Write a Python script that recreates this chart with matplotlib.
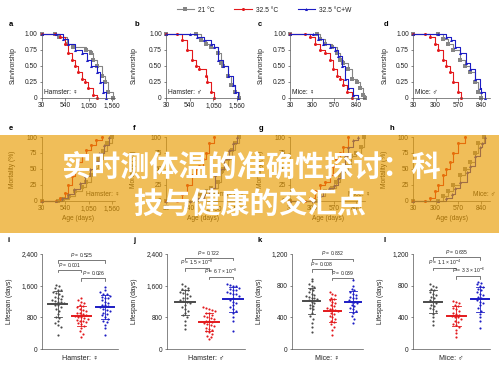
import numpy as np
import matplotlib
matplotlib.use("Agg")
import matplotlib.pyplot as plt
from matplotlib.patches import Rectangle
from matplotlib.ticker import FuncFormatter

plt.rcParams['font.family'] = ['Liberation Sans', 'DejaVu Sans']
plt.rcParams['mathtext.fontset'] = 'custom'
plt.rcParams['mathtext.it'] = 'Liberation Sans:italic'
plt.rcParams['mathtext.rm'] = 'Liberation Sans'

# ---- data: survivorship (days, fraction alive) ----
groups = ['21 °C', '32.5 °C', '32.5 °C+W']

a_day_21 = [30, 320, 400, 570, 710, 1000, 1110, 1150, 1235, 1330, 1400, 1470, 1580]
a_srv_21 = [1, 1, .95, .85, .80, .75, .70, .60, .50, .35, .25, .10, 0]
a_day_32 = [30, 320, 430, 540, 610, 680, 750, 820, 900, 970, 1040, 1150, 1220]
a_srv_32 = [1, 1, .95, .85, .70, .60, .50, .40, .30, .25, .15, .05, 0]
a_day_w = [30, 350, 490, 600, 750, 900, 1020, 1110, 1220, 1300, 1370, 1435]
a_srv_w = [1, 1, .92, .85, .75, .70, .60, .50, .40, .25, .10, 0]

b_day_21 = [30, 664, 774, 883, 992, 1138, 1211, 1247, 1357, 1430, 1503, 1590]
b_srv_21 = [1, 1, .90, .85, .80, .70, .55, .50, .35, .20, .10, 0]
b_day_32 = [30, 263, 373, 482, 591, 664, 737, 883, 919, 992, 1065]
b_srv_32 = [1, 1, .90, .75, .60, .50, .45, .35, .25, .10, 0]
b_day_w = [30, 555, 701, 847, 992, 1065, 1138, 1247, 1357, 1466, 1503, 1575]
b_srv_w = [1, 1, .95, .90, .85, .80, .60, .50, .35, .20, .10, 0]

c_day_21 = [30, 357, 398, 459, 541, 603, 644, 684, 746, 787, 848, 889, 930, 950]
c_srv_21 = [1, 1, .92, .85, .80, .70, .60, .55, .45, .30, .25, .15, .05, 0]
c_day_32 = [30, 214, 275, 337, 398, 459, 521, 562, 603, 644, 684, 725, 787]
c_srv_32 = [1, 1, .95, .85, .75, .70, .60, .45, .35, .30, .20, .10, 0]
c_day_w = [30, 316, 378, 439, 521, 582, 623, 664, 705, 746, 807, 868]
c_srv_w = [1, 1, .92, .85, .80, .75, .65, .50, .30, .15, .05, 0]

d_day_21 = [30, 329, 389, 449, 509, 589, 648, 708, 768, 808, 848]
d_srv_21 = [1, 1, .92, .85, .75, .60, .50, .40, .25, .10, 0]
d_day_32 = [30, 170, 230, 289, 329, 389, 429, 469, 509, 569, 609]
d_srv_32 = [1, 1, .95, .85, .75, .60, .50, .40, .25, .10, 0]
d_day_w = [30, 329, 429, 489, 529, 589, 668, 708, 768, 828, 848, 888]
d_srv_w = [1, 1, .95, .90, .80, .70, .55, .45, .30, .15, .10, 0]

# ---- data: mortality (days, %) ----
e_day_21 = [30, 380, 500, 620, 760, 900, 1000, 1100, 1180, 1260, 1350, 1450, 1550]
e_mor_21 = [0, 0, 3, 8, 15, 22, 30, 40, 52, 65, 78, 90, 100]
e_day_32 = [30, 330, 430, 540, 600, 680, 750, 820, 900, 1000, 1100, 1200, 1330]
e_mor_32 = [0, 0, 5, 12, 25, 38, 50, 60, 72, 80, 88, 95, 100]
e_day_w = [30, 350, 480, 600, 720, 850, 980, 1080, 1180, 1280, 1380, 1500]
e_mor_w = [0, 0, 5, 10, 18, 28, 38, 50, 62, 75, 88, 100]

f_day_21 = [30, 660, 770, 880, 1000, 1140, 1220, 1260, 1360, 1440, 1510, 1590]
f_mor_21 = [0, 0, 10, 15, 20, 30, 45, 50, 65, 80, 90, 100]
f_day_32 = [30, 265, 370, 480, 580, 665, 740, 820, 885, 960, 1060]
f_mor_32 = [0, 0, 10, 25, 40, 50, 55, 65, 75, 90, 100]
f_day_w = [30, 550, 700, 840, 950, 1000, 1080, 1180, 1280, 1380, 1470, 1560]
f_mor_w = [0, 0, 5, 10, 15, 20, 40, 50, 65, 80, 90, 100]

g_day_21 = [30, 360, 400, 460, 540, 600, 640, 680, 740, 780, 840, 900, 940]
g_mor_21 = [0, 0, 8, 15, 20, 30, 40, 45, 55, 70, 75, 85, 100]
g_day_32 = [30, 215, 280, 340, 400, 460, 520, 560, 600, 640, 680, 740]
g_mor_32 = [0, 0, 5, 15, 25, 30, 40, 55, 65, 75, 85, 100]
g_day_w = [30, 315, 370, 430, 510, 570, 620, 660, 700, 740, 800, 870]
g_mor_w = [0, 0, 8, 15, 20, 25, 35, 50, 70, 85, 95, 100]

h_day_21 = [30, 330, 390, 450, 510, 590, 650, 710, 770, 810, 880]
h_mor_21 = [0, 0, 8, 15, 25, 40, 50, 60, 75, 90, 100]
h_day_32 = [30, 170, 230, 290, 330, 390, 430, 470, 510, 570, 650]
h_mor_32 = [0, 0, 5, 15, 25, 40, 50, 60, 75, 90, 100]
h_day_w = [30, 330, 430, 490, 530, 590, 670, 710, 770, 830, 860, 890]
h_mor_w = [0, 0, 5, 10, 20, 30, 45, 55, 70, 85, 90, 100]

# ---- data: individual lifespans (days) ----
i_21 = [1620, 1580, 1540, 1500, 1480, 1450, 1420, 1380, 1350, 1320, 1300, 1270, 1250, 1220, 1200,
        1180, 1150, 1120, 1100, 1060, 1000, 950, 880, 820, 780, 700, 650, 600, 560, 350]
i_32 = [1300, 1250, 1200, 1150, 1100, 1080, 1050, 1000, 980, 950, 920, 900, 880, 860, 840,
        820, 800, 780, 760, 740, 720, 700, 680, 650, 620, 580, 520, 450, 380, 300]
i_w = [1560, 1500, 1450, 1400, 1380, 1350, 1320, 1300, 1280, 1250, 1200, 1150, 1120, 1100, 1080,
       1050, 1000, 980, 950, 900, 880, 850, 800, 760, 720, 680, 600, 520, 350]
j_21 = [1650, 1600, 1550, 1520, 1500, 1480, 1450, 1420, 1400, 1350, 1300, 1280, 1250, 1220, 1200,
        1150, 1100, 1050, 1000, 950, 900, 850, 800, 700, 600, 500]
j_32 = [1050, 1030, 1000, 980, 950, 920, 900, 870, 840, 800, 780, 750, 720, 700, 680, 650, 620,
        600, 570, 540, 500, 480, 450, 420, 380, 340, 300, 250]
j_w = [1650, 1620, 1600, 1580, 1550, 1520, 1500, 1480, 1450, 1420, 1400, 1380, 1350, 1300, 1250,
       1200, 1150, 1100, 1050, 1000, 950, 900, 800, 700, 450]
k_21 = [880, 860, 820, 800, 780, 760, 740, 720, 700, 680, 670, 660, 650, 640, 630, 620, 600, 580,
        560, 540, 520, 500, 460, 420, 380, 330, 280, 220]
k_32 = [720, 700, 680, 650, 630, 620, 600, 580, 560, 540, 520, 510, 500, 490, 480, 460, 440, 420,
        400, 380, 360, 340, 320, 280, 240, 180]
k_w = [870, 800, 760, 740, 720, 700, 680, 660, 650, 640, 620, 600, 590, 580, 560, 540, 520, 500,
       480, 460, 420, 380, 330]
l_21 = [820, 800, 780, 760, 740, 720, 700, 680, 660, 640, 620, 600, 580, 560, 540, 520, 500, 480,
        440, 400, 350, 300]
l_32 = [610, 600, 580, 560, 540, 520, 500, 480, 460, 440, 430, 420, 410, 400, 380, 360, 340, 320,
        300, 280, 240, 200, 150]
l_w = [850, 840, 820, 800, 780, 760, 740, 720, 700, 680, 660, 640, 620, 600, 580, 560, 520, 480,
       440, 400, 350, 270]

p_i = ['0.525', '0.001', '0.026']
p_j = ['0.722', r'1.5 × 10$^{-8}$', r'6.7 × 10$^{-8}$']
p_k = ['0.832', '0.008', '0.039']
p_l = ['0.635', r'1.1 × 10$^{-4}$', r'3.3 × 10$^{-6}$']

cohorts = ['Hamster: ♀', 'Hamster: ♂', 'Mice: ♀', 'Mice: ♂']

# ---- styling ----
colors = ['#858585', '#e3191c', '#1c1cc4']
dot_colors = ['#4a4a4a', '#e3191c', '#1c1cc4']
markers = ['s', 'o', '^']
txt = '#222222'
spine_c = '#555555'
FS = 4.8

W, H = 499, 371
fig = plt.figure(figsize=(W / 100, H / 100), dpi=100)


def px_axes(l, t, r, b):
    return fig.add_axes([l / W, 1 - b / H, (r - l) / W, (b - t) / H])


def style(ax):
    for s in ['top', 'right']:
        ax.spines[s].set_visible(False)
    for s in ['left', 'bottom']:
        ax.spines[s].set_linewidth(0.5)
        ax.spines[s].set_color(spine_c)
    ax.tick_params(length=1.8, width=0.5, pad=1.2, labelsize=FS, colors=spine_c, labelcolor=txt)


def ylab(ax, text, x_px, l, r):
    ax.set_ylabel(text, fontsize=FS, color=txt)
    ax.yaxis.set_label_coords((x_px - l) / (r - l), 0.5)


cols = [(41.7, 115), (166, 240), (290, 365), (413, 490)]
xlims = [(30, 1620), (30, 1620), (30, 950), (30, 950)]
xticks = [[30, 540, 1050, 1560]] * 2 + [[30, 300, 570, 840]] * 2
letters_top = [(9, 'a'), (135, 'b'), (258, 'c'), (384, 'd')]
ylab_x = [17, 138, 265, 389]

surv = [
    [(a_day_21, a_srv_21), (a_day_32, a_srv_32), (a_day_w, a_srv_w)],
    [(b_day_21, b_srv_21), (b_day_32, b_srv_32), (b_day_w, b_srv_w)],
    [(c_day_21, c_srv_21), (c_day_32, c_srv_32), (c_day_w, c_srv_w)],
    [(d_day_21, d_srv_21), (d_day_32, d_srv_32), (d_day_w, d_srv_w)],
]
mort = [
    [(e_day_21, e_mor_21), (e_day_32, e_mor_32), (e_day_w, e_mor_w)],
    [(f_day_21, f_mor_21), (f_day_32, f_mor_32), (f_day_w, f_mor_w)],
    [(g_day_21, g_mor_21), (g_day_32, g_mor_32), (g_day_w, g_mor_w)],
    [(h_day_21, h_mor_21), (h_day_32, h_mor_32), (h_day_w, h_mor_w)],
]
life = [(i_21, i_32, i_w), (j_21, j_32, j_w), (k_21, k_32, k_w), (l_21, l_32, l_w)]
pvals = [p_i, p_j, p_k, p_l]

comma = FuncFormatter(lambda v, p: f'{int(v):,}')

handles = []
# row 1: survivorship
for n, (l, r) in enumerate(cols):
    ax = px_axes(l, 34, r, 98)
    style(ax)
    for g in range(3):
        days, s = surv[n][g]
        ln, = ax.plot(days, s, drawstyle='steps-post', color=colors[g], lw=0.8,
                      marker=markers[g], ms=2.2, mew=0, clip_on=False, label=groups[g])
        if n == 0:
            handles.append(ln)
    ax.set_xlim(*xlims[n])
    ax.set_ylim(0, 1.0)
    ax.set_xticks(xticks[n])
    ax.xaxis.set_major_formatter(comma)
    ax.set_yticks([0, 0.25, 0.5, 0.75, 1.0])
    ax.set_yticklabels(['0', '0.25', '0.50', '0.75', '1.00'])
    ylab(ax, 'Survivorship', ylab_x[n], l, r)
    ax.text(0.03, 0.03, cohorts[n], transform=ax.transAxes, fontsize=FS, color=txt,
            ha='left', va='bottom')
    fig.text(letters_top[n][0] / W, 1 - 25 / H, letters_top[n][1], fontsize=5.5,
             weight='bold', ha='left', va='center')

# row 2: mortality
letters_mid = [(9, 'e'), (133, 'f'), (259, 'g'), (390, 'h')]
for n, (l, r) in enumerate(cols):
    ax = px_axes(l, 137, r, 200.7)
    style(ax)
    for g in range(3):
        days, m = mort[n][g]
        ax.plot(days, m, drawstyle='steps-post', color=colors[g], lw=0.8,
                marker=markers[g], ms=2.2, mew=0, clip_on=False)
    ax.set_xlim(*xlims[n])
    ax.set_ylim(0, 100)
    ax.set_xticks(xticks[n])
    ax.xaxis.set_major_formatter(comma)
    ax.set_yticks([0, 25, 50, 75, 100])
    ylab(ax, 'Mortality (%)', ylab_x[n] - 1, l, r)
    ax.set_xlabel('Age (days)', fontsize=FS, color=txt, labelpad=2)
    ax.text(1.07, 0.04, cohorts[n], transform=ax.transAxes, fontsize=FS, color=txt,
            ha='right', va='bottom')
    fig.text(letters_mid[n][0] / W, 1 - 128 / H, letters_mid[n][1], fontsize=5.5,
             weight='bold', ha='left', va='center')


# row 3: lifespan dot plots
def swarm(vals, binw, dx):
    vals = np.asarray(vals, float)
    off = np.zeros_like(vals)
    keys = np.round(vals / binw)
    for k in np.unique(keys):
        idx = np.where(keys == k)[0]
        off[idx] = (np.arange(len(idx)) - (len(idx) - 1) / 2) * dx
    return off


boxes3 = [(42, 118), (167, 245), (292, 363), (413, 490)]
xl3 = [(0.33, 3.55), (0.25, 3.5), (0.05, 3.48), (0.15, 3.43)]
ymax3 = [2400, 2400, 1200, 1200]
br_y = [(2248, 2004, 1785), (2307, 2038, 1827), (1142, 1009, 901), (1163, 1026, 922)]
letters_bot = [(7, 'i'), (133, 'j'), (258, 'k'), (383, 'l')]
ylab3_x = [13, 138, 263, 384]
for n, (l, r) in enumerate(boxes3):
    ax = px_axes(l, 254, r, 349)
    style(ax)
    ym = ymax3[n]
    for g in range(3):
        vals = np.asarray(life[n][g], float)
        xs = g + 1 + swarm(vals, ym / 24, 0.13)
        ax.scatter(xs, vals, s=2.4, color=dot_colors[g], lw=0, zorder=3)
        mu, sd = vals.mean(), vals.std()
        ax.plot([g + 0.6, g + 1.4], [mu, mu], color=dot_colors[g], lw=1.4, zorder=4)
        ax.plot([g + 1, g + 1], [mu - sd, mu + sd], color=dot_colors[g], lw=0.6, zorder=4)
        for y in (mu - sd, mu + sd):
            ax.plot([g + 0.82, g + 1.18], [y, y], color=dot_colors[g], lw=0.6, zorder=4)
    ax.set_xlim(*xl3[n])
    ax.set_ylim(0, ym)
    ax.set_xticks([])
    ax.set_yticks(np.linspace(0, ym, 4))
    ax.yaxis.set_major_formatter(comma)
    ylab(ax, 'Lifespan (days)', ylab3_x[n], l, r)
    ax.set_xlabel(cohorts[n], fontsize=FS + 0.3, color=txt, labelpad=4)
    tick = ym * 0.028
    for (x1, x2), y, p in zip([(1, 3), (1, 2), (2, 3)], br_y[n], pvals[n]):
        ax.plot([x1, x1, x2, x2], [y - tick, y, y, y - tick], color='#444444', lw=0.5,
                clip_on=False)
        ax.text((x1 + x2) / 2, y + ym * 0.012, r'$\it{P}$ = ' + p, fontsize=3.6,
                color=txt, ha='center', va='bottom')
    fig.text(letters_bot[n][0] / W, 1 - 241 / H, letters_bot[n][1], fontsize=5.5,
             weight='bold', ha='left', va='center')

fig.legend(handles, groups, loc='center', bbox_to_anchor=(264 / W, 1 - 10 / H), ncol=3,
           frameon=False, fontsize=FS, handlelength=2.6, columnspacing=3.0,
           handletextpad=0.6, labelcolor=txt)

# banner overlay
fig.add_artist(Rectangle((0, 1 - 233 / H), 1, (233 - 135) / H, transform=fig.transFigure,
                         facecolor=(232 / 255, 155 / 255, 0), edgecolor='none', alpha=0.65,
                         zorder=10))
cjk = ['Noto Sans CJK SC', 'DejaVu Sans']
fig.text(251 / W, 1 - 167 / H, '实时测体温的准确性探讨：科', ha='center', va='center',
         fontsize=21, color='white', weight='heavy', family=cjk, zorder=11)
fig.text(250 / W, 1 - 204 / H, '技与健康的交汇点', ha='center', va='center',
         fontsize=21, color='white', weight='heavy', family=cjk, zorder=11)

fig.savefig('out.png', dpi=100)
